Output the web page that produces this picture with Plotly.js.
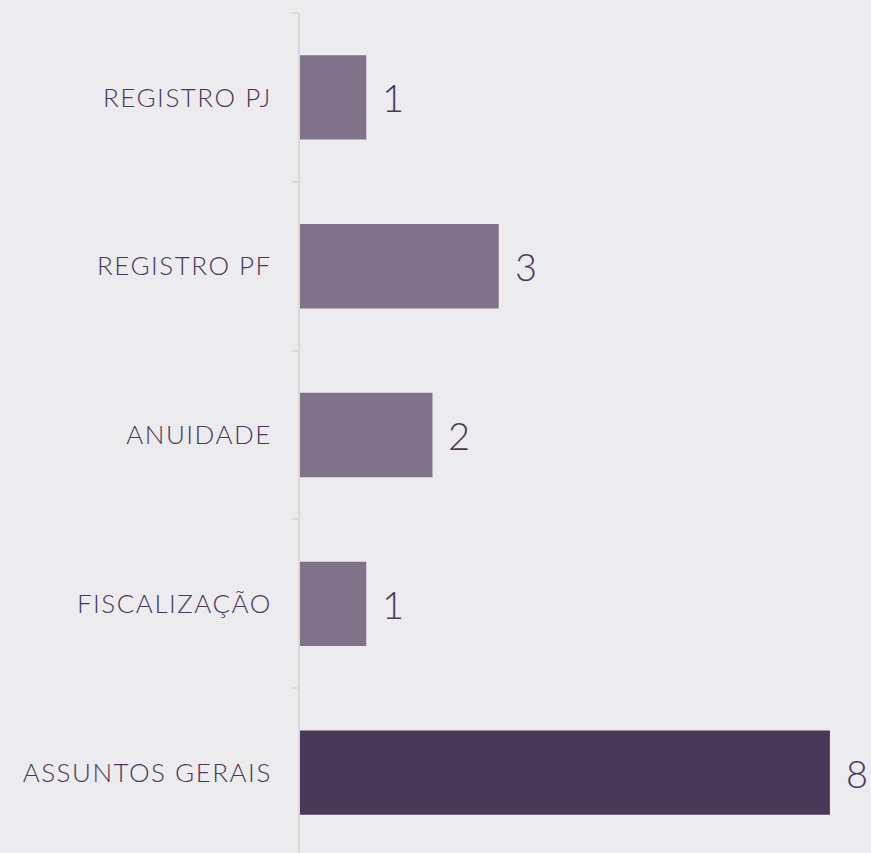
<!DOCTYPE html>
<html>
<head>
<meta charset="utf-8">
<script src="https://cdn.plot.ly/plotly-3.0.1.min.js"></script>
<style>
html,body{margin:0;padding:0;background:#ecebee;}
#chart{width:871px;height:853px;}
#chart .ytick text{letter-spacing:1.5px;}
</style>
</head>
<body>
<div id="chart"></div>
<script>
const categories = ["ASSUNTOS GERAIS", "FISCALIZAÇÃO", "ANUIDADE", "REGISTRO PF", "REGISTRO PJ"];
const values = [8, 1, 2, 3, 1];
const barColors = ["#4a3858", "#7f7289", "#7f7289", "#7f7289", "#7f7289"];
const textColor = "#4a3858";
const fontFam = "Lato, 'Noto Sans', sans-serif";

const trace = {
  type: "bar",
  orientation: "h",
  x: values,
  y: categories,
  marker: {color: barColors, line: {width: 0}},
  hoverinfo: "none",
  cliponaxis: false
};

const annotations = categories.map((c, i) => ({
  x: values[i], y: c, xref: "x", yref: "y",
  text: String(values[i]), showarrow: false,
  xanchor: "left", yanchor: "middle", xshift: 14,
  font: {family: fontFam, size: 38, weight: 300, color: textColor}
}));

const layout = {
  width: 871, height: 853,
  margin: {l: 300, r: 0, t: 13, b: 0},
  paper_bgcolor: "#ecebee",
  plot_bgcolor: "#ecebee",
  bargap: 0.5,
  showlegend: false,
  xaxis: {range: [0, 8.62], visible: false, fixedrange: true},
  yaxis: {
    type: "category",
    range: [-0.476, 4.5],
    showline: true, linecolor: "#d9d9d9", linewidth: 2,
    ticks: "outside", tickson: "boundaries", ticklen: 6, tickcolor: "#d9d9d9", tickwidth: 2,
    showgrid: false, zeroline: false,
    ticklabelstandoff: 21,
    tickfont: {family: fontFam, size: 26, weight: 300, color: textColor},
    fixedrange: true
  },
  annotations: annotations
};

Plotly.newPlot("chart", [trace], layout, {displayModeBar: false, staticPlot: true});
</script>
</body>
</html>
